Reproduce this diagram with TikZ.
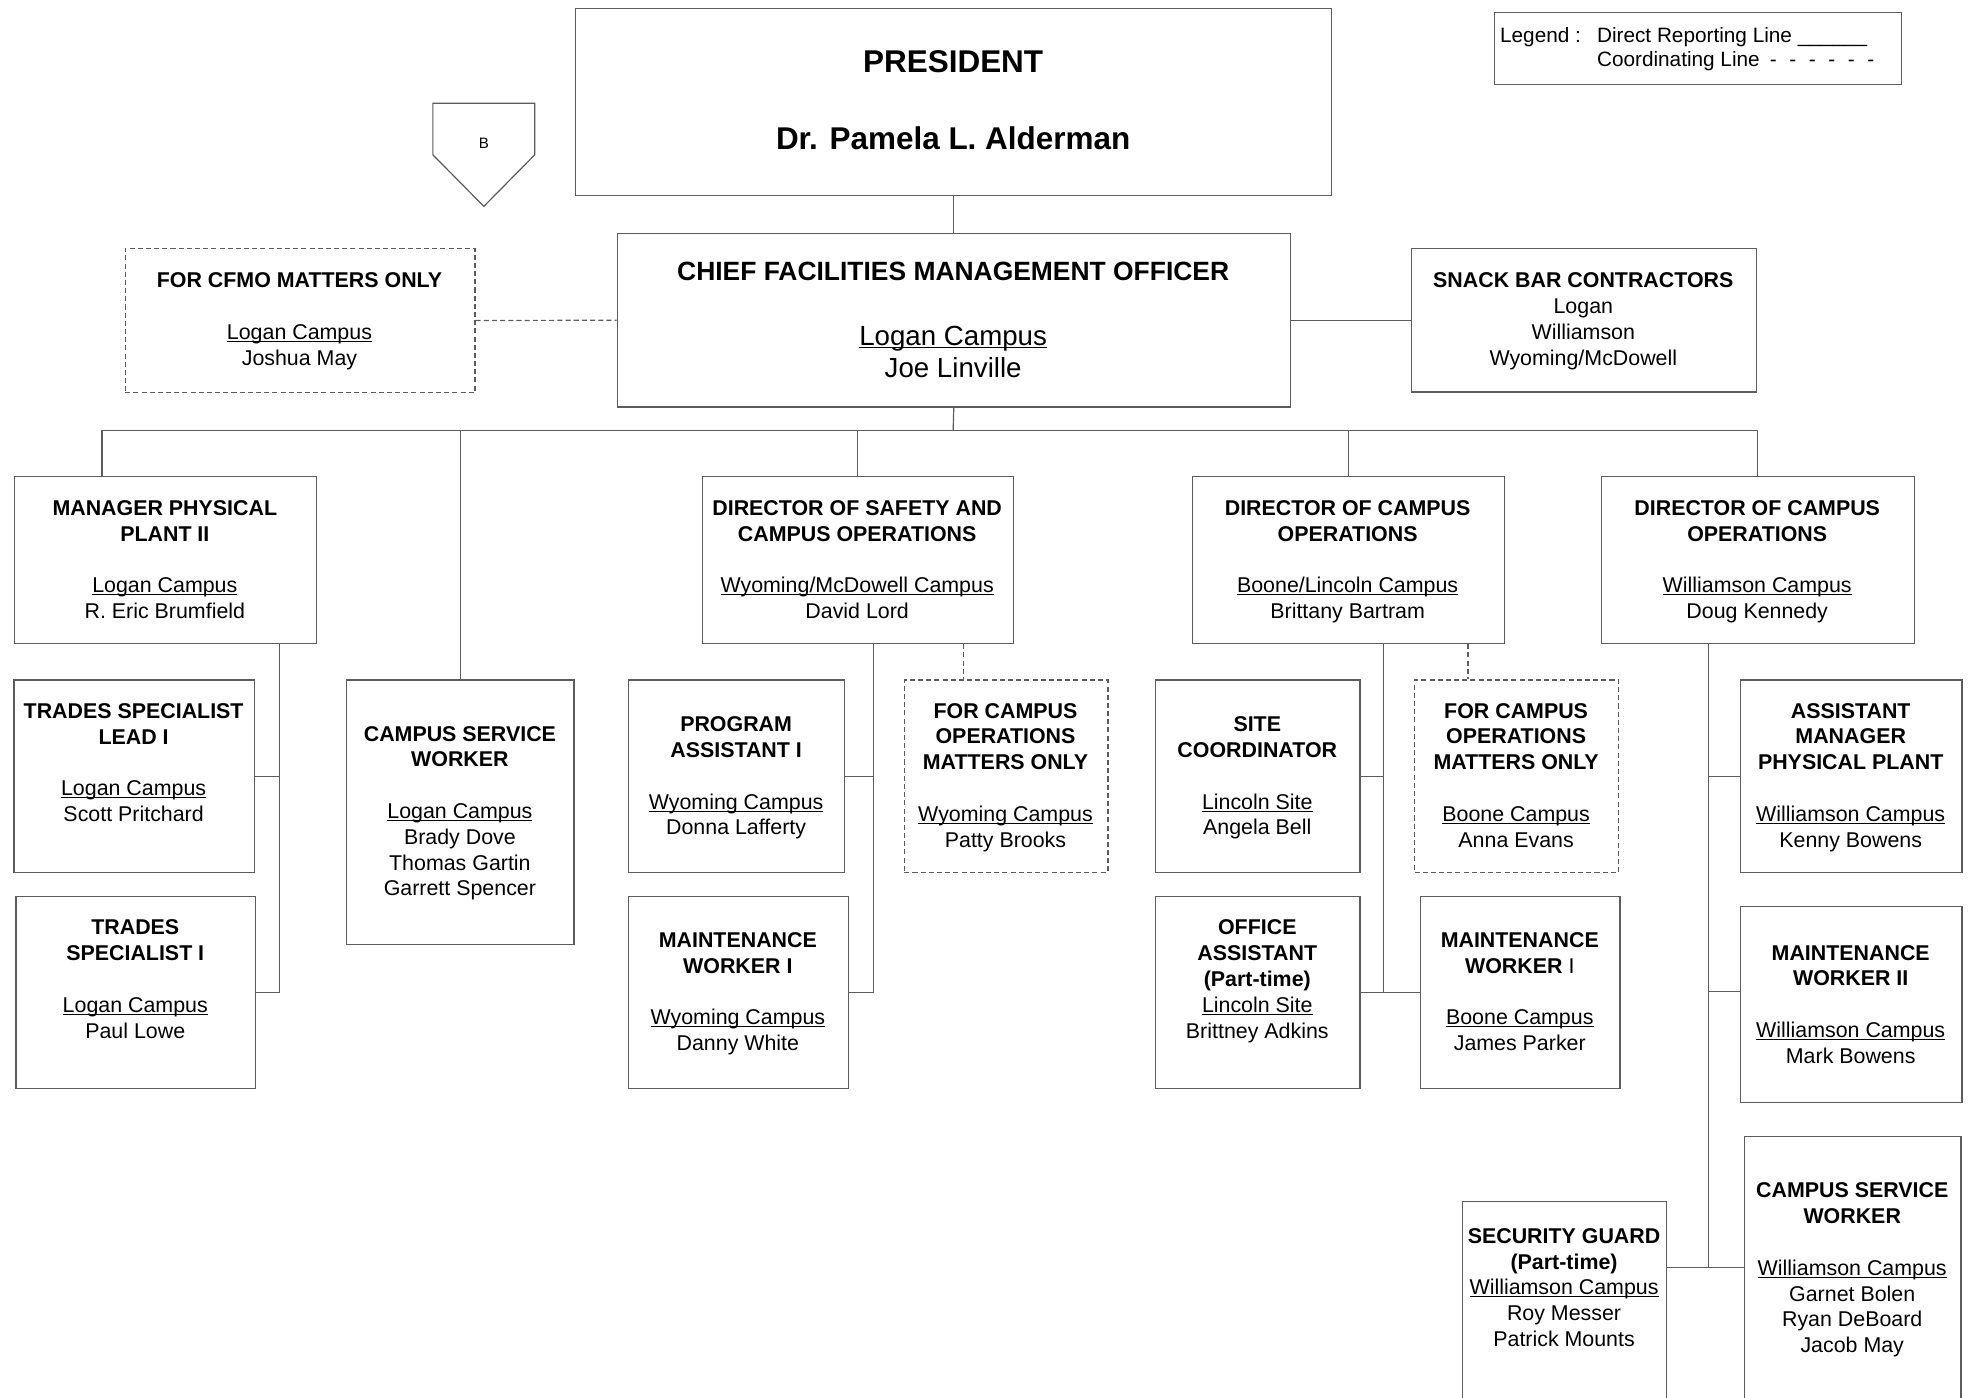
\documentclass[tikz,border=0pt]{standalone}
\usepackage{fontspec}
\setmainfont{Liberation Sans}
\definecolor{lc}{gray}{0.36}
\newcommand{\tb}[1]{\textbf{#1}}
\newcommand{\ul}[1]{\setbox0=\hbox{#1}\rlap{\raisebox{-0.12em}[0pt][0pt]{\rule{\wd0}{0.8pt}}}\box0}
\newcommand{\st}{\rule[-5pt]{0pt}{19pt}}
\newcommand{\bx}[1]{\st#1\st}
\newcommand{\orgbox}[6]{%
  \node[#1, anchor=north west, minimum width={(#5-#3)*1pt}, minimum height={(#6-#4)*1pt}] (#2) at (#3,#4) {};}
\begin{document}
\begin{tikzpicture}[x=1pt,y=-1pt,
  box/.style={draw=lc, line width=0.95pt, rectangle, inner sep=0pt, fill=white},
  dbox/.style={box, dash pattern=on 4pt off 2.5pt},
  txt/.style={align=center, font=\fontsize{17}{20.5}\selectfont, inner sep=0pt, text=black},
  conn/.style={draw=lc, line width=0.95pt},
  dconn/.style={conn, dash pattern=on 4pt off 2.5pt},
  lgd/.style={font=\fontsize{16.5}{20}\selectfont, inner sep=0pt, anchor=base west}]
\useasboundingbox (0,0) rectangle (1568,1111);
\fill[white] (0,0) rectangle (1568,1111);
\clip (0,0) rectangle (1568,1111);

\coordinate (busL) at (81,342);
\coordinate (busR) at (1396.5,342);
\coordinate (bus) at (757.5,342);

% ---------- boxes ----------
\orgbox{box}{pres}{457}{6}{1058}{155}
\orgbox{box}{cfmo}{490}{185}{1025}{323}
\orgbox{dbox}{cfmoonly}{99}{197}{377}{311.5}
\orgbox{box}{snack}{1121}{197}{1395.5}{311}
\orgbox{box}{legend}{1187}{9.3}{1511}{66.8}
\orgbox{box}{mpp}{11}{378}{251}{511}
\orgbox{box}{dsafe}{557.5}{378}{805}{511}
\orgbox{box}{dboone}{947}{378}{1195}{511}
\orgbox{box}{dwil}{1272}{378}{1521}{511}
\orgbox{box}{tsl}{10.6}{540}{201.7}{692.8}
\orgbox{box}{tsone}{12.2}{712}{202.7}{864.6}
\orgbox{box}{cswl}{275.2}{540}{455.7}{750}
\orgbox{box}{paone}{499.2}{540}{670.5}{692.8}
\orgbox{box}{mwone}{499.2}{712}{673.6}{864.6}
\orgbox{dbox}{fcw}{718.2}{540}{880}{692.8}
\orgbox{box}{site}{918}{540}{1080.3}{692.8}
\orgbox{dbox}{fcb}{1123.7}{540}{1286}{692.8}
\orgbox{box}{office}{918}{712}{1080.3}{864.6}
\orgbox{box}{mwb}{1128.6}{712}{1287}{864.6}
\orgbox{box}{am}{1382.8}{540}{1558.8}{692.8}
\orgbox{box}{mwtwo}{1382.8}{719.8}{1558.8}{875.5}
\orgbox{box}{sg}{1162}{954.5}{1324}{1130}
\orgbox{box}{cswt}{1386}{902.6}{1558}{1130}

% ---------- connectors ----------
\draw[conn] (pres.south) -- (cfmo.north);
\draw[conn] (cfmo.south) -- (bus);
\draw[conn] (busL) -- (busR);
\draw[conn] (busL) -- (busL |- mpp.north);
\draw[conn] (cswl.north) -- (cswl.north |- bus);
\draw[conn] (dsafe.north) -- (dsafe.north |- bus);
\draw[conn] (dboone.north) -- (dboone.north |- bus);
\draw[conn] (dwil.north) -- (dwil.north |- bus);
\draw[dconn] (cfmoonly.east) -- (cfmo.west);
\draw[conn] (cfmo.east) -- (snack.west);

\coordinate (mv) at ([xshift=211]mpp.south west);
\draw[conn] (mv) -- (mv |- tsone.east) -- (tsone.east);
\draw[conn] (mv |- tsl.east) -- (tsl.east);

\coordinate (sv) at ([xshift=137]dsafe.south west);
\draw[conn] (sv) -- (sv |- mwone.east) -- (mwone.east);
\draw[conn] (sv |- paone.east) -- (paone.east);
\coordinate (sd) at ([xshift=208.5]dsafe.south west);
\draw[dconn] (sd) -- (sd |- fcw.north);

\coordinate (bv) at ([xshift=152.6]dboone.south west);
\draw[conn] (bv) -- (bv |- office.east);
\draw[conn] (bv |- site.east) -- (site.east);
\draw[conn] (office.east) -- (mwb.west);
\coordinate (bd) at ([xshift=219.6]dboone.south west);
\draw[dconn] (bd) -- (bd |- fcb.north);

\coordinate (wv) at ([xshift=85.6]dwil.south west);
\coordinate (wb) at (1357.6,1007.5);
\coordinate (wm) at (1357.6,788);
\draw[conn] (wv) -- (wb);
\draw[conn] (wv |- am.west) -- (am.west);
\draw[conn] (wm) -- (wm -| mwtwo.west);
\draw[conn] (sg.east |- wb) -- (cswt.west |- wb);

% B off-page connector
\draw[conn] (344,82) -- (425,82) -- (425,123) -- (384.5,164) -- (344,123) -- cycle;
\node[font=\fontsize{12}{14}\selectfont, inner sep=0pt] (btxt) at (384.5,114) {B};

% ---------- texts ----------
\node[txt, font=\fontsize{25}{30.5}\selectfont] (prest) at (757.5,79.5)
  {\tb{PRESIDENT}\\[30.5pt]\tb{Dr. Pamela L. Alderman}};
\node[txt, font=\fontsize{22}{26}\selectfont] (cfmot) at (757.5,256.3)
  {\rule[-6pt]{0pt}{23pt}{\fontsize{21}{26}\selectfont\tb{CHIEF FACILITIES MANAGEMENT OFFICER}}\\[25pt]\ul{Logan Campus}\\Joe Linville\rule[-6pt]{0pt}{23pt}};
\node[txt] (cfmoonlyt) at (238,255)
  {\bx{\tb{FOR CFMO MATTERS ONLY}\\[20.5pt]\ul{Logan Campus}\\Joshua May}};
\node[txt] (snackt) at (1258.3,255)
  {\bx{\tb{SNACK BAR CONTRACTORS}\\Logan\\Williamson\\Wyoming/McDowell}};

\node[lgd] (lg1) at (1192,34) {Legend :};
\node[lgd] (lg2) at (1269,34) {Direct Reporting Line \textunderscore\textunderscore\textunderscore\textunderscore\textunderscore\textunderscore};
\node[lgd] (lg3) at (1269,53) {Coordinating Line\hspace{8pt}-\hspace{10pt}-\hspace{10pt}-\hspace{10pt}-\hspace{10pt}-\hspace{10pt}-};

\node[txt] (mppt) at (131,446)
  {\bx{\tb{MANAGER PHYSICAL}\\\tb{PLANT II}\\[20.5pt]\ul{Logan Campus}\\R. Eric Brumfield}};
\node[txt] (dsafet) at (681.2,446)
  {\bx{\tb{DIRECTOR OF SAFETY AND}\\\tb{CAMPUS OPERATIONS}\\[20.5pt]\ul{Wyoming/McDowell Campus}\\David Lord}};
\node[txt] (dboonet) at (1071,446)
  {\bx{\tb{DIRECTOR OF CAMPUS}\\\tb{OPERATIONS}\\[20.5pt]\ul{Boone/Lincoln Campus}\\Brittany Bartram}};
\node[txt] (dwilt) at (1396.5,446)
  {\bx{\tb{DIRECTOR OF CAMPUS}\\\tb{OPERATIONS}\\[20.5pt]\ul{Williamson Campus}\\Doug Kennedy}};

\node[txt] (tslt) at (106.2,607.5)
  {\bx{\tb{TRADES SPECIALIST}\\\tb{LEAD I}\\[20.5pt]\ul{Logan Campus}\\Scott Pritchard}};
\node[txt] (tsonet) at (107.5,779.5)
  {\bx{\tb{TRADES}\\\tb{SPECIALIST I}\\[20.5pt]\ul{Logan Campus}\\Paul Lowe}};
\node[txt] (cswlt) at (365.5,646)
  {\bx{\tb{CAMPUS SERVICE}\\\tb{WORKER}\\[20.5pt]\ul{Logan Campus}\\Brady Dove\\Thomas Gartin\\Garrett Spencer}};
\node[txt] (paonet) at (585,618)
  {\bx{\tb{PROGRAM}\\\tb{ASSISTANT I}\\[20.5pt]\ul{Wyoming Campus}\\Donna Lafferty}};
\node[txt] (mwonet) at (586.4,789.5)
  {\bx{\tb{MAINTENANCE}\\\tb{WORKER I}\\[20.5pt]\ul{Wyoming Campus}\\Danny White}};
\node[txt] (fcwt) at (799.1,617.5)
  {\bx{\tb{FOR CAMPUS}\\\tb{OPERATIONS}\\\tb{MATTERS ONLY}\\[20.5pt]\ul{Wyoming Campus}\\Patty Brooks}};
\node[txt] (sitet) at (999.2,618)
  {\bx{\tb{SITE}\\\tb{COORDINATOR}\\[20.5pt]\ul{Lincoln Site}\\Angela Bell}};
\node[txt] (fcbt) at (1204.9,617.5)
  {\bx{\tb{FOR CAMPUS}\\\tb{OPERATIONS}\\\tb{MATTERS ONLY}\\[20.5pt]\ul{Boone Campus}\\Anna Evans}};
\node[txt] (officet) at (999.2,779.5)
  {\bx{\tb{OFFICE}\\\tb{ASSISTANT}\\\tb{(Part-time)}\\\ul{Lincoln Site}\\Brittney Adkins}};
\node[txt] (mwbt) at (1207.8,789.5)
  {\bx{\tb{MAINTENANCE}\\\tb{WORKER} I\\[20.5pt]\ul{Boone Campus}\\James Parker}};
\node[txt] (amt) at (1470.8,617.5)
  {\bx{\tb{ASSISTANT}\\\tb{MANAGER}\\\tb{PHYSICAL PLANT}\\[20.5pt]\ul{Williamson Campus}\\Kenny Bowens}};
\node[txt] (mwtwot) at (1470.8,799.5)
  {\bx{\tb{MAINTENANCE}\\\tb{WORKER II}\\[20.5pt]\ul{Williamson Campus}\\Mark Bowens}};
\node[txt] (sgt) at (1243,1024.5)
  {\bx{\tb{SECURITY GUARD}\\\tb{(Part-time)}\\\ul{Williamson Campus}\\Roy Messer\\Patrick Mounts}};
\node[txt] (cswtt) at (1472,1009)
  {\bx{\tb{CAMPUS SERVICE}\\\tb{WORKER}\\[20.5pt]\ul{Williamson Campus}\\Garnet Bolen\\Ryan DeBoard\\Jacob May}};
\end{tikzpicture}
\end{document}
